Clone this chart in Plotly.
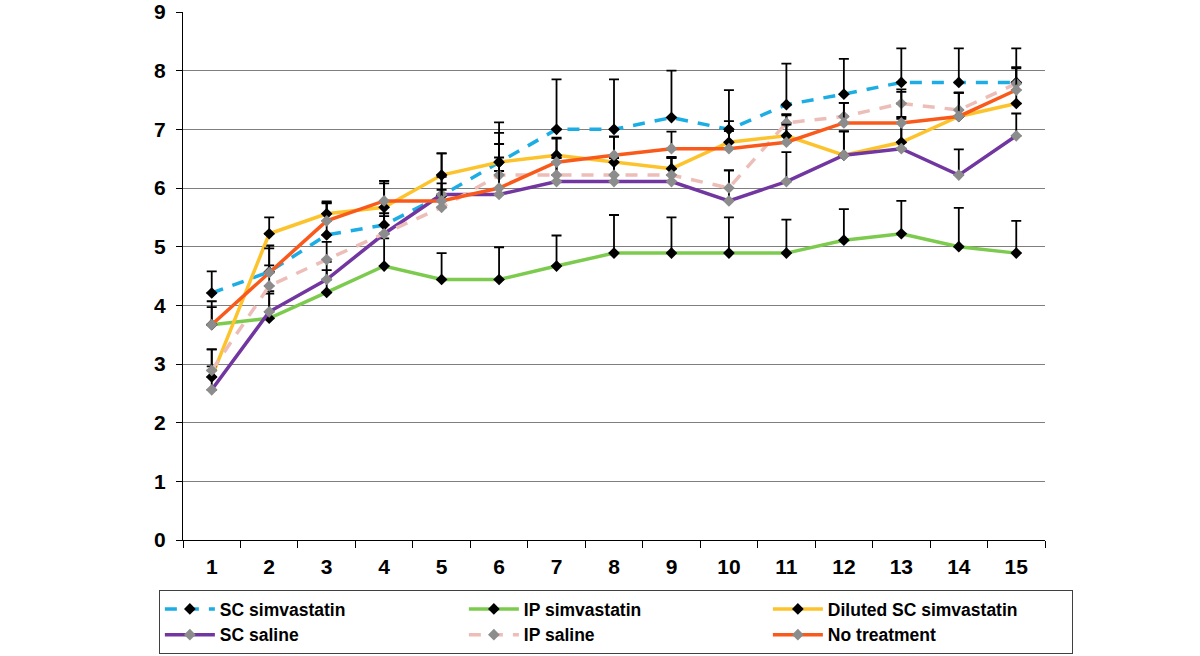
import plotly.graph_objects as go

days = [str(i) for i in range(1, 16)]

sc_simva = [4.21, 4.57, 5.2, 5.37, 5.87, 6.44, 7.0, 7.0, 7.2, 7.0, 7.42, 7.6, 7.8, 7.8, 7.8]
sc_simva_err = [0.37, 0.45, 0.55, 0.75, 0.72, 0.68, 0.85, 0.85, 0.8, 0.67, 0.7, 0.6, 0.58, 0.58, 0.58]

ip_simva = [3.67, 3.78, 4.22, 4.67, 4.44, 4.44, 4.67, 4.89, 4.89, 4.89, 4.89, 5.11, 5.22, 5.0, 4.89]
ip_simva_err = [0.4, 0.42, 0.38, 0.47, 0.45, 0.55, 0.52, 0.65, 0.61, 0.61, 0.57, 0.53, 0.56, 0.66, 0.55]

dil_simva = [2.78, 5.22, 5.56, 5.67, 6.22, 6.44, 6.56, 6.44, 6.33, 6.78, 6.89, 6.56, 6.78, 7.22, 7.44]
dil_simva_err = [0.47, 0.28, 0.21, 0.45, 0.37, 0.5, 0.3, 0.43, 0.2, 0.36, 0.35, 0.4, 0.4, 0.4, 0.35]

sc_saline = [2.56, 3.89, 4.44, 5.22, 5.89, 5.89, 6.11, 6.11, 6.11, 5.78, 6.11, 6.56, 6.67, 6.22, 6.89]
sc_saline_err = [0.4, 0.35, 0.3, 0.35, 0.3, 0.4, 0.4, 0.4, 0.4, 0.52, 0.5, 0.41, 0.54, 0.44, 0.38]

ip_saline = [2.89, 4.33, 4.78, 5.22, 5.67, 6.22, 6.22, 6.22, 6.22, 6.0, 7.11, 7.22, 7.44, 7.33, 7.78]
ip_saline_err = [0.36, 0.35, 0.3, 0.3, 0.3, 0.3, 0.3, 0.3, 0.3, 0.3, 0.15, 0.23, 0.24, 0.3, 0.26]

no_treat = [3.67, 4.56, 5.44, 5.78, 5.78, 6.0, 6.44, 6.56, 6.67, 6.67, 6.78, 7.11, 7.11, 7.22, 7.67]
no_treat_err = [0.3, 0.41, 0.3, 0.3, 0.3, 0.75, 0.4, 0.32, 0.29, 0.3, 0.3, 0.34, 0.53, 0.4, 0.39]

series = [
    ("SC simvastatin", sc_simva, sc_simva_err, "#1CADE4", "dash", "black"),
    ("IP simvastatin", ip_simva, ip_simva_err, "#7CCB4E", "solid", "black"),
    ("Diluted SC simvastatin", dil_simva, dil_simva_err, "#FCC32C", "solid", "black"),
    ("SC saline", sc_saline, sc_saline_err, "#7136A0", "solid", "#8C8C8C"),
    ("IP saline", ip_saline, ip_saline_err, "#EDBDB8", "dash", "#8C8C8C"),
    ("No treatment", no_treat, no_treat_err, "#F95A1B", "solid", "#8C8C8C"),
]

fig = go.Figure()
for name, vals, err, col, dash, mcol in series:
    fig.add_trace(go.Scatter(
        x=days, y=vals, name=name, mode="lines+markers",
        line=dict(color=col, width=3.5, dash=("12px,10px" if dash == "dash" else "solid")),
        marker=dict(symbol="diamond", size=9, color=mcol),
        error_y=dict(type="data", array=err, symmetric=False, arrayminus=[0] * len(err),
                     color="black", thickness=1.8, width=5),
    ))

fig.update_layout(
    width=1200, height=656,
    margin=dict(l=183, r=155, t=12, b=116, autoexpand=False),
    paper_bgcolor="white", plot_bgcolor="white",
    font=dict(family="Liberation Sans, Arial, sans-serif", color="black"),
    showlegend=True,
    legend=dict(
        orientation="h", x=-0.028, y=-0.0947, xanchor="left", yanchor="top",
        bordercolor="#404040", borderwidth=1,
        font=dict(size=17.5, family="Liberation Sans, Arial, sans-serif", weight="bold"),
        entrywidth=239, entrywidthmode="pixels",
        tracegroupgap=0, itemwidth=50,
    ),
)

fig.update_xaxes(
    type="category", range=[-0.5, 14.5], tickson="boundaries", ticks="outside", ticklen=7,
    tickcolor="black", showline=True, linecolor="black", linewidth=1,
    showgrid=False, automargin=False, ticklabelstandoff=8,
    tickfont=dict(size=21, weight="bold"),
)
fig.update_yaxes(
    range=[0, 9], dtick=1, ticks="outside", ticklen=6, tickcolor="black",
    showline=True, linecolor="black", linewidth=1, automargin=False,
    showgrid=True, gridcolor="#7F7F7F", gridwidth=1, zeroline=False,
    ticklabelstandoff=6,
    tickfont=dict(size=21, weight="bold"),
)

fig.write_html(
    "out.html",
    config={"displayModeBar": False},
    post_script="document.body.style.margin='0';document.body.style.overflow='hidden';",
)
